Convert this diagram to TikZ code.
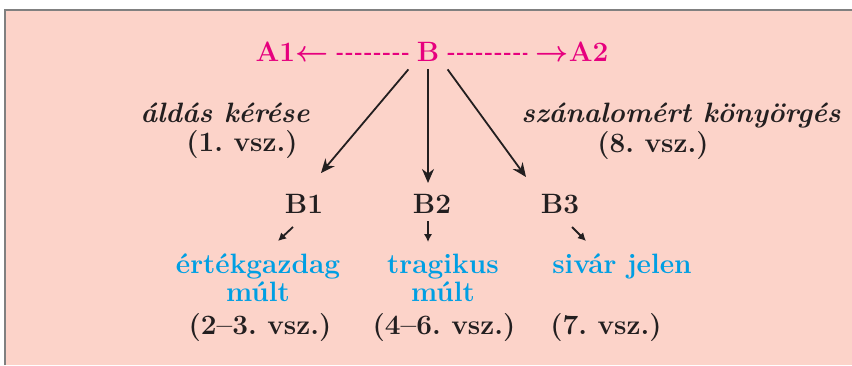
\documentclass[tikz,border=0pt]{standalone}
\usepackage{tikz}
\usetikzlibrary{arrows.meta}

\definecolor{bgpink}{HTML}{FCD3C9}
\definecolor{hotpink}{HTML}{E6007E}
\definecolor{skyblue}{HTML}{009FE3}
\definecolor{inkdark}{HTML}{231F20}

\frenchspacing
\begin{document}
\begin{tikzpicture}[x=0.5pt,y=-0.5pt,
  lbl/.style={anchor=base,inner sep=4pt,font=\fontsize{14}{14}\selectfont\bfseries\boldmath,text=inkdark},
  hot/.style={lbl,text=hotpink},
  note/.style={lbl,font=\fontsize{14}{14}\selectfont\bfseries\itshape},
  past/.style={lbl,text=skyblue,align=center},
  dashline/.style={draw=hotpink,line width=1pt,dash pattern=on 3.2pt off 1.5pt},
  bigarrow/.style={draw=inkdark,line width=0.9pt,-{Stealth[length=7pt,width=6pt]}},
  smallarrow/.style={draw=inkdark,line width=0.9pt,-{Latex[length=4pt,width=4.2pt]}}]
\useasboundingbox (0,0) rectangle (852,365);
\fill[bgpink] (5,10) rectangle (852,365);
\draw[gray,line width=0.75pt] (5,365) -- (5,10) -- (852,10);

\node[hot] (a1) at (292,61) {A1$\leftarrow$};
\node[hot] (b) at (428,61) {B};
\node[hot] (a2) at (572,61) {$\rightarrow$A2};

\node[note] (ask) at (225,122) {áldás kérése};
\node[lbl] (v1) at (242,151) {(1. vsz.)};
\node[note] (plea) at (681,122) {szánalomért könyörgés};
\node[lbl] (v8) at (653,152) {(8. vsz.)};

\node[lbl] (b1) at (304,213) {B1};
\node[lbl] (b2) at (432,213) {B2};
\node[lbl] (b3) at (560,213) {B3};

% two-line nodes sit on their last line
\node[past] (p1) at (258,301) {értékgazdag\\múlt};
\node[past] (p2) at (443,301) {tragikus\\múlt};
\node[past] (p3) at (622,273) {sivár jelen};

\node[lbl] (v23) at (260,334) {(2--3. vsz.)};
\node[lbl] (v46) at (444,334) {(4--6. vsz.)};
\node[lbl] (v7) at (606,334) {(7. vsz.)};

% arrow ends
\coordinate (t1) at (321,173);
\coordinate (t2) at (428,183);
\coordinate (t3) at (526,177);
\coordinate (s1) at (293,227);
\coordinate (e1) at (278,241);
\coordinate (e2) at (428,242);
\coordinate (s3) at (572,227);
\coordinate (e3) at (586,241);

\path[dashline] ([yshift=-1.3pt]b.west) -- ([yshift=-1.3pt]a1.east);
\path[dashline] ([yshift=-1.3pt]b.east) -- ([yshift=-1.3pt]a2.west);

\path[bigarrow] (b.south west) -- (t1);
\path[bigarrow] (b.south) -- (t2);
\path[bigarrow] (b.south east) -- (t3);

\path[smallarrow] (s1) -- (e1);
\path[smallarrow] (b2.south -| e2) -- (e2);
\path[smallarrow] (s3) -- (e3);
\end{tikzpicture}
\end{document}
